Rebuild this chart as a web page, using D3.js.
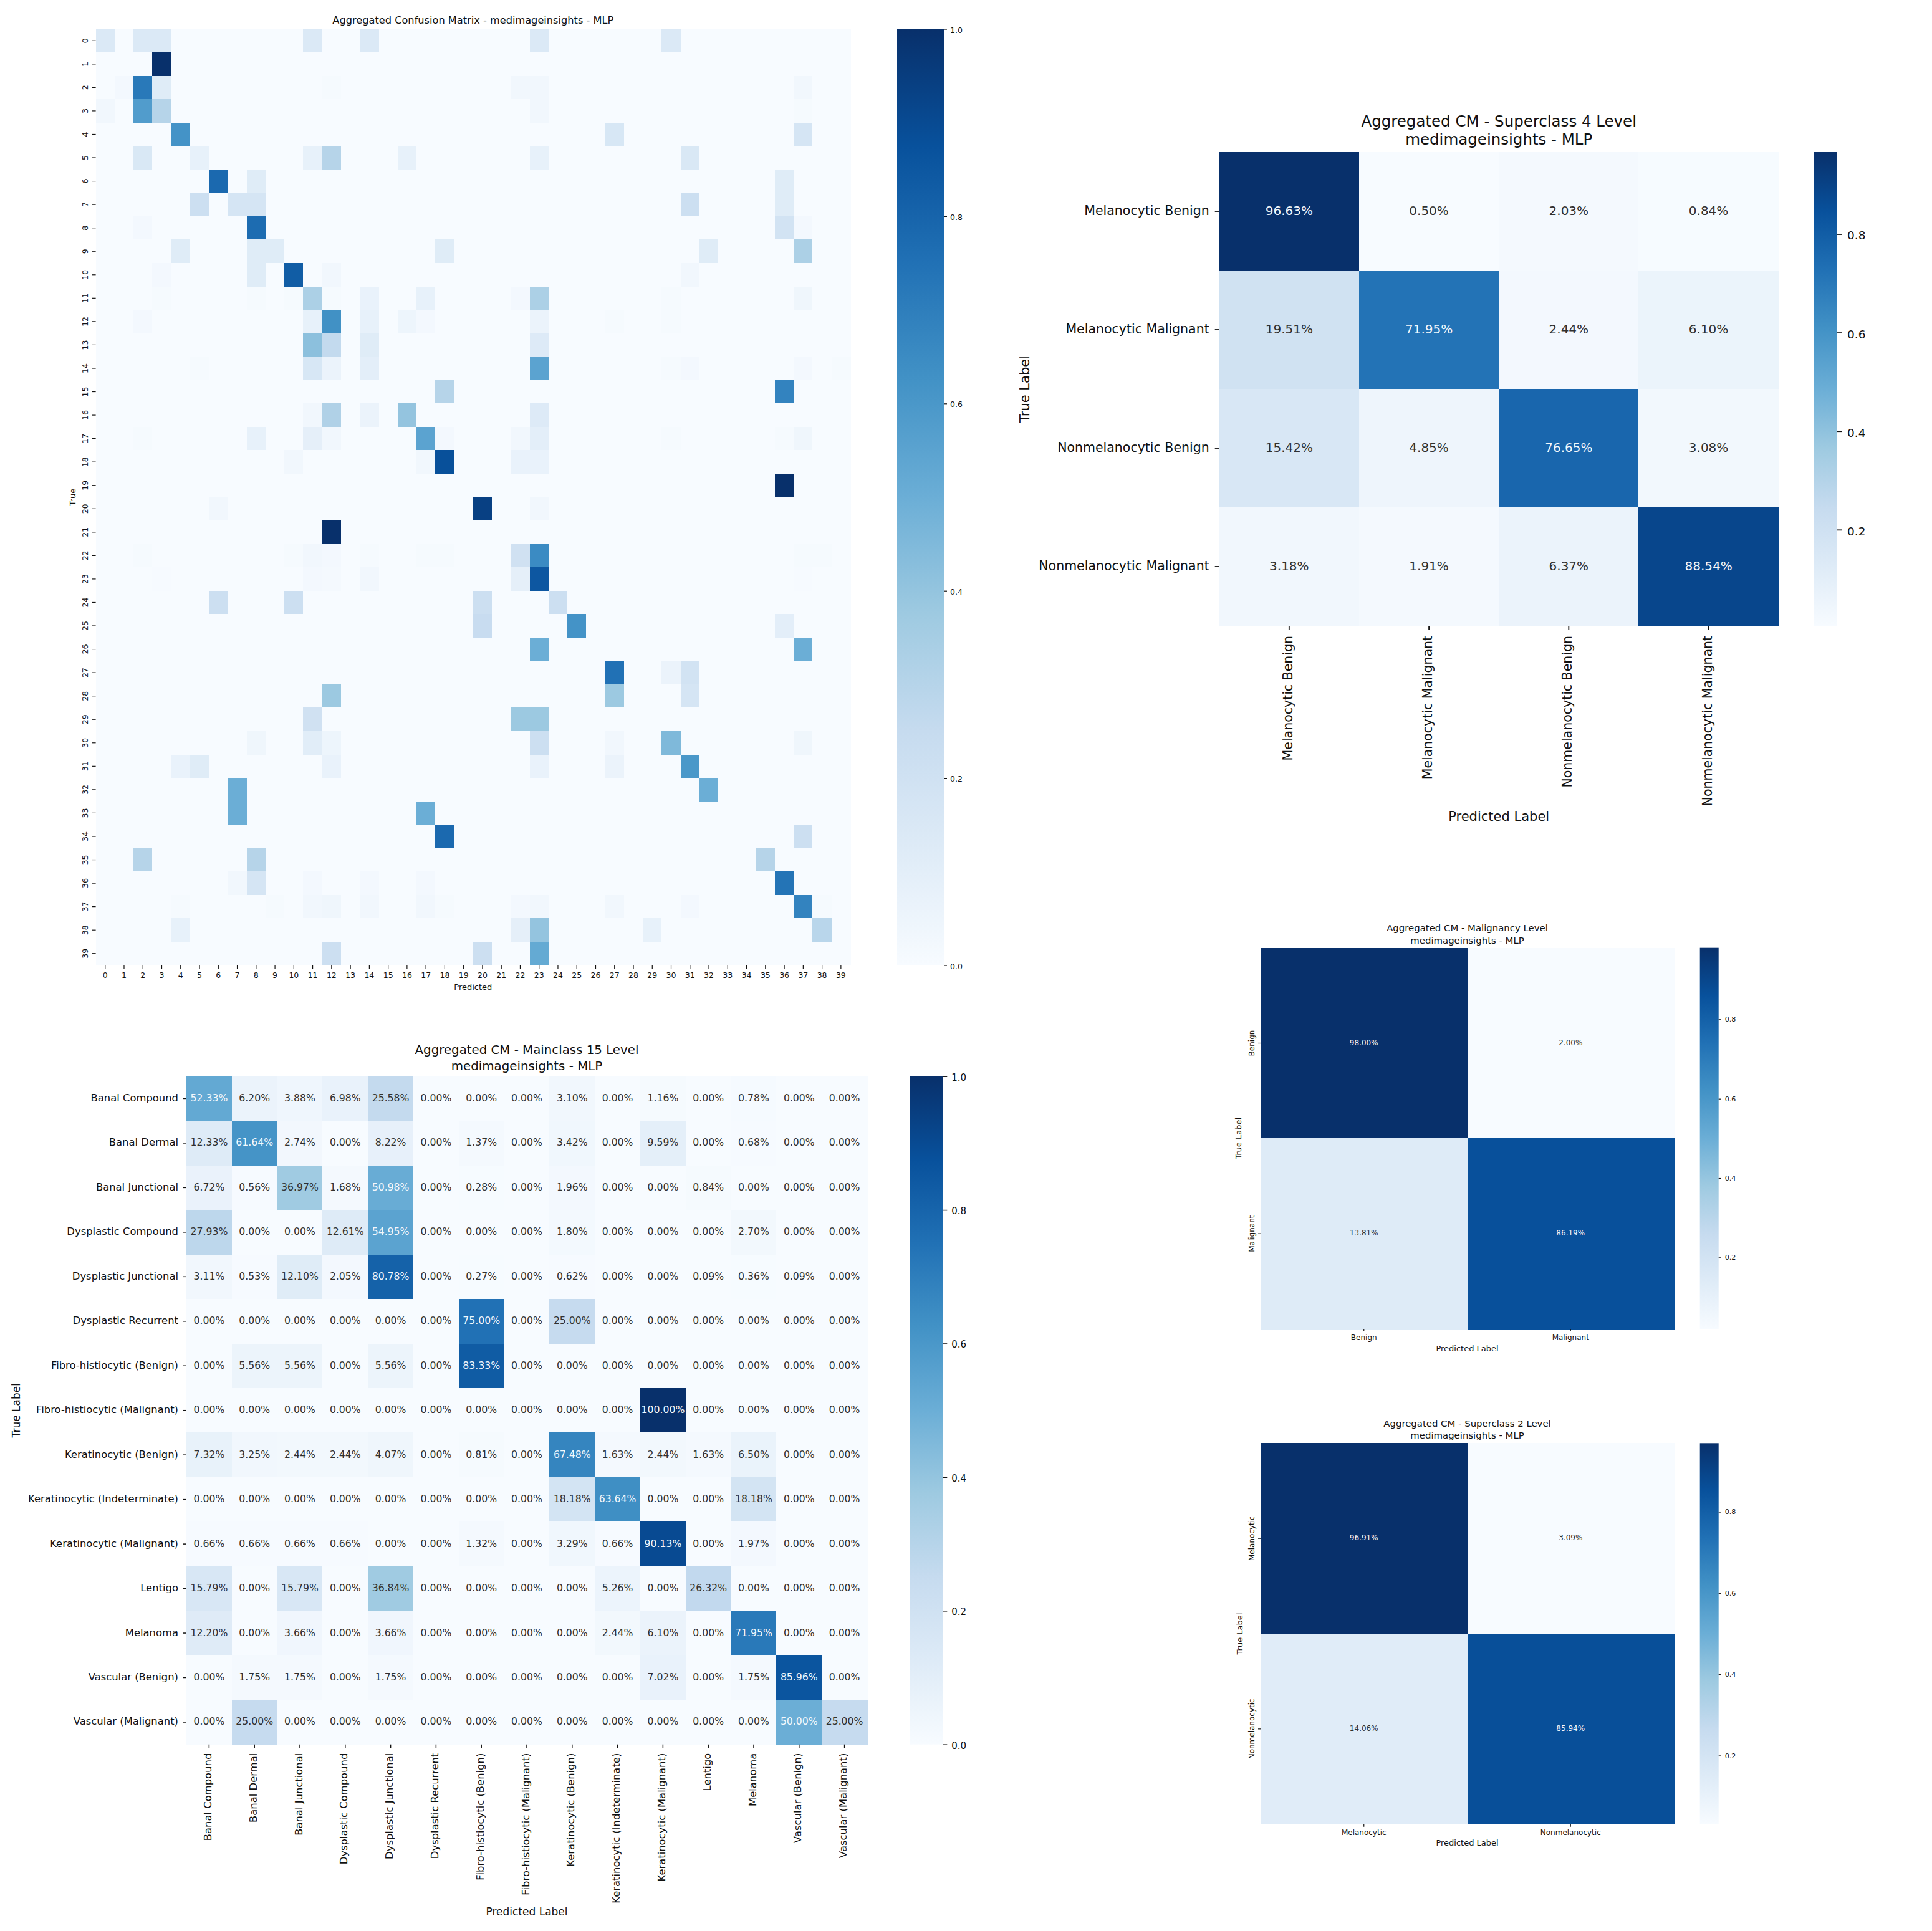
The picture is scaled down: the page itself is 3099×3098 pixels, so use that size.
<!DOCTYPE html>
<html><head><meta charset="utf-8">
<script src="https://cdn.jsdelivr.net/npm/d3@7/dist/d3.min.js"></script>
<style>html,body{margin:0;padding:0;background:#fff}svg{display:block}text{font-family:"DejaVu Sans",sans-serif}</style>
</head><body><div id="chart"></div>
<script>
// ---------- Data ----------
const classIds = Array.from({length:40},(_,i)=>String(i));
// fine-level matrix, per true class: [predicted class, rate] pairs (all other cells are 0)
const fineRows = [
 [[0,.14],[2,.14],[3,.14],[11,.14],[14,.14],[23,.14],[30,.14]],
 [[3,1]],
 [[1,.02],[2,.72],[3,.12],[12,.01],[22,.03],[23,.03],[37,.03]],
 [[0,.03],[2,.58],[3,.3],[23,.03],[37,.01]],
 [[4,.62],[27,.16],[37,.17]],
 [[2,.15],[5,.08],[11,.08],[12,.3],[16,.08],[23,.08],[31,.15]],
 [[6,.78],[8,.12],[36,.12]],
 [[5,.22],[7,.17],[8,.17],[31,.22],[36,.12]],
 [[2,.02],[8,.77],[36,.19],[37,.02]],
 [[4,.12],[8,.12],[9,.12],[18,.12],[32,.12],[37,.33]],
 [[3,.02],[8,.12],[10,.83],[12,.03],[31,.03]],
 [[3,.01],[8,.01],[10,.01],[11,.33],[12,.01],[14,.07],[17,.08],[22,.02],[23,.33],[30,.01],[37,.04]],
 [[2,.02],[11,.08],[12,.63],[14,.08],[16,.05],[17,.02],[23,.06],[27,.01],[30,.01]],
 [[11,.42],[12,.26],[14,.12],[23,.13]],
 [[5,.01],[11,.16],[12,.06],[14,.1],[23,.55],[30,.01],[31,.02],[37,.02],[39,.01]],
 [[18,.3],[36,.68]],
 [[11,.03],[12,.32],[14,.06],[16,.4],[23,.13]],
 [[2,.01],[8,.08],[11,.09],[12,.03],[17,.55],[18,.02],[22,.03],[23,.1],[30,.01],[36,.01],[37,.04]],
 [[10,.03],[17,.03],[18,.88],[22,.07],[23,.07]],
 [[36,1]],
 [[6,.03],[20,.94],[23,.03]],
 [[12,1]],
 [[2,.01],[10,.01],[11,.03],[12,.02],[14,.01],[17,.01],[18,.01],[22,.2],[23,.65],[37,.01],[38,.01]],
 [[3,.005],[11,.02],[12,.015],[14,.03],[22,.09],[23,.85],[37,.005]],
 [[6,.22],[10,.22],[20,.22],[24,.22]],
 [[20,.24],[25,.62],[36,.1]],
 [[23,.5],[37,.5]],
 [[27,.75],[30,.06],[31,.19]],
 [[12,.38],[27,.38],[31,.17]],
 [[11,.2],[22,.38],[23,.38]],
 [[8,.04],[11,.11],[12,.05],[23,.22],[27,.03],[30,.45],[37,.04]],
 [[4,.07],[5,.12],[12,.07],[23,.07],[27,.06],[31,.6]],
 [[7,.5],[32,.5]],
 [[7,.5],[17,.5]],
 [[18,.78],[37,.22]],
 [[2,.3],[8,.3],[35,.3]],
 [[7,.03],[8,.17],[11,.02],[14,.02],[17,.02],[36,.74]],
 [[4,.01],[9,.01],[11,.03],[12,.04],[14,.03],[17,.03],[18,.01],[22,.02],[23,.03],[27,.03],[31,.02],[37,.68],[38,.01]],
 [[4,.08],[22,.09],[23,.4],[29,.08],[38,.29]],
 [[12,.22],[20,.22],[23,.52]]
];
const mainLabels = ["Banal Compound","Banal Dermal","Banal Junctional","Dysplastic Compound","Dysplastic Junctional","Dysplastic Recurrent","Fibro-histiocytic (Benign)","Fibro-histiocytic (Malignant)","Keratinocytic (Benign)","Keratinocytic (Indeterminate)","Keratinocytic (Malignant)","Lentigo","Melanoma","Vascular (Benign)","Vascular (Malignant)"];
const mainValues = [
 [52.33,6.20,3.88,6.98,25.58,0,0,0,3.10,0,1.16,0,0.78,0,0],
 [12.33,61.64,2.74,0,8.22,0,1.37,0,3.42,0,9.59,0,0.68,0,0],
 [6.72,0.56,36.97,1.68,50.98,0,0.28,0,1.96,0,0,0.84,0,0,0],
 [27.93,0,0,12.61,54.95,0,0,0,1.80,0,0,0,2.70,0,0],
 [3.11,0.53,12.10,2.05,80.78,0,0.27,0,0.62,0,0,0.09,0.36,0.09,0],
 [0,0,0,0,0,0,75,0,25,0,0,0,0,0,0],
 [0,5.56,5.56,0,5.56,0,83.33,0,0,0,0,0,0,0,0],
 [0,0,0,0,0,0,0,0,0,0,100,0,0,0,0],
 [7.32,3.25,2.44,2.44,4.07,0,0.81,0,67.48,1.63,2.44,1.63,6.50,0,0],
 [0,0,0,0,0,0,0,0,18.18,63.64,0,0,18.18,0,0],
 [0.66,0.66,0.66,0.66,0,0,1.32,0,3.29,0.66,90.13,0,1.97,0,0],
 [15.79,0,15.79,0,36.84,0,0,0,0,5.26,0,26.32,0,0,0],
 [12.20,0,3.66,0,3.66,0,0,0,0,2.44,6.10,0,71.95,0,0],
 [0,1.75,1.75,0,1.75,0,0,0,0,0,7.02,0,1.75,85.96,0],
 [0,25,0,0,0,0,0,0,0,0,0,0,0,50,25]
];
const super4Labels = ["Melanocytic Benign","Melanocytic Malignant","Nonmelanocytic Benign","Nonmelanocytic Malignant"];
const super4Values = [[96.63,0.50,2.03,0.84],[19.51,71.95,2.44,6.10],[15.42,4.85,76.65,3.08],[3.18,1.91,6.37,88.54]];
const malignancyLabels = ["Benign","Malignant"];
const malignancyValues = [[98.00,2.00],[13.81,86.19]];
const super2Labels = ["Melanocytic","Nonmelanocytic"];
const super2Values = [[96.91,3.09],[14.06,85.94]];
const cbarTicksFull = [0,.2,.4,.6,.8,1];
const cbarTicksShort = [.2,.4,.6,.8];

// ---------- Setup ----------
const W=3099,H=3098, INK="#111";
const svg=d3.select("#chart").append("svg").attr("width",W).attr("height",H).attr("viewBox",`0 0 ${W} ${H}`);
svg.append("rect").attr("width",W).attr("height",H).attr("fill","#fff");
// matplotlib "Blues": piecewise linear through the 9 ColorBrewer anchors
const anchors=d3.schemeBlues[9];
const blues=d3.scaleLinear().domain(d3.range(9).map(i=>i/8)).range(anchors).interpolate(d3.interpolateRgb).clamp(true);
const grad=svg.append("defs").append("linearGradient").attr("id","cb").attr("x1",0).attr("x2",0).attr("y1",1).attr("y2",0);
anchors.forEach((c,i)=>grad.append("stop").attr("offset",i/8).attr("stop-color",c));
function lum(c){const r=d3.rgb(c);const f=v=>{v/=255;return v<=.03928?v/12.92:Math.pow((v+.055)/1.055,2.4)};return .2126*f(r.r)+.7152*f(r.g)+.0722*f(r.b);}

function heat(o){
  const n=o.matrix.length, g=svg.append("g"), k=o.unit||1;
  const x=d3.scaleBand().domain(d3.range(n)).range([o.x,o.x+o.w]);
  const y=d3.scaleBand().domain(d3.range(n)).range([o.y,o.y+o.h]);
  const norm=d3.scaleLinear().domain([o.vmin,o.vmax]).range([0,1]).clamp(true);
  const cells=o.matrix.flatMap((row,r)=>row.map((v,c)=>({r,c,v})));
  g.append("g").selectAll("rect").data(cells).join("rect")
    .attr("x",d=>x(d.c)).attr("y",d=>y(d.r)).attr("width",x.bandwidth()+.5).attr("height",y.bandwidth()+.5)
    .attr("fill",d=>blues(norm(d.v))).attr("shape-rendering","crispEdges");
  if(o.annot) g.append("g").selectAll("text").data(cells).join("text")
    .attr("x",d=>x(d.c)+x.bandwidth()/2).attr("y",d=>y(d.r)+y.bandwidth()/2-1)
    .attr("text-anchor","middle").attr("dominant-baseline","central").attr("font-size",o.annot)
    .attr("fill",d=>lum(blues(norm(d.v)))<.408?"#f4f8fc":"#303030")
    .text(d=>d.v.toFixed(2)+"%");
  // axes
  const ax=(sel)=>{sel.select(".domain").remove();sel.selectAll("line").attr("stroke",INK).attr("stroke-width",o.tw);};
  const gx=g.append("g").attr("transform",`translate(0,${o.y+o.h})`).call(d3.axisBottom(x).tickSize(o.tl).tickFormat(i=>o.labels[i])).call(ax);
  const gy=g.append("g").attr("transform",`translate(${o.x},0)`).call(d3.axisLeft(y).tickSize(o.tl).tickFormat(i=>o.labels[i])).call(ax);
  gx.selectAll("text").attr("fill",INK).attr("font-size",o.tf).each(function(){
    const t=d3.select(this).attr("dy",null).attr("y",null);
    if(o.xRot) t.attr("text-anchor","end").attr("dominant-baseline","central").attr("transform",`translate(-2,${o.xOff}) rotate(-90)`);
    else t.attr("text-anchor","middle").attr("dominant-baseline","central").attr("transform",`translate(0,${o.xOff})`);
  });
  gy.selectAll("text").attr("fill",INK).attr("font-size",o.tf).each(function(){
    const t=d3.select(this).attr("dy",null).attr("x",null);
    if(o.yRot) t.attr("text-anchor","middle").attr("dominant-baseline","central").attr("transform",`translate(${-o.yOff},0) rotate(-90)`);
    else t.attr("text-anchor","end").attr("dominant-baseline","central").attr("transform",`translate(${-o.yOff},-1)`);
  });
  // titles and axis names
  const cx=o.x+o.w/2;
  o.title.forEach((s,i)=>g.append("text").attr("x",cx).attr("y",o.titleY[i]).attr("text-anchor","middle").attr("dominant-baseline","central").attr("font-size",o.titleF).attr("fill",INK).text(s));
  g.append("text").attr("x",cx).attr("y",o.xLabelY).attr("text-anchor","middle").attr("dominant-baseline","central").attr("font-size",o.labF).attr("fill",INK).text(o.xName);
  g.append("text").attr("transform",`translate(${o.yLabelX},${o.y+o.h/2}) rotate(-90)`).attr("text-anchor","middle").attr("dominant-baseline","central").attr("font-size",o.labF).attr("fill",INK).text(o.yName);
  // colour bar
  const cbS=d3.scaleLinear().domain([o.vmin/k,o.vmax/k]).range([o.y+o.h,o.y]);
  g.append("rect").attr("x",o.cbX).attr("y",o.y).attr("width",o.cbW).attr("height",o.h).attr("fill","url(#cb)");
  const gc=g.append("g").attr("transform",`translate(${o.cbX+o.cbW},0)`).call(d3.axisRight(cbS).tickValues(o.cbTicks).tickSize(o.cbTl).tickPadding(o.cbPad).tickFormat(d3.format(".1f"))).call(ax);
  gc.selectAll("text").attr("fill",INK).attr("font-size",o.cbF).attr("dy",null).attr("y",o.cbDy).attr("dominant-baseline","central");
}

heat({matrix:fineRows.map(row=>{const a=classIds.map(()=>0);row.forEach(([c,v])=>a[c]=v);return a;}),labels:classIds,
  x:153.6,y:46.5,w:1210.4,h:1502,vmin:0,vmax:1,annot:0,tl:6,tw:1.2,tf:12.5,xRot:false,xOff:16,yRot:true,yOff:17,
  title:["Aggregated Confusion Matrix - medimageinsights - MLP"],titleY:[32],titleF:16.2,xName:"Predicted",yName:"True",xLabelY:1583,yLabelX:116,labF:13,
  cbX:1439,cbW:75,cbTicks:cbarTicksFull,cbTl:5,cbPad:5,cbF:12.5,cbDy:1});

heat({matrix:super4Values,labels:super4Labels,unit:100,x:1955.7,y:244,w:897,h:760,vmin:.5,vmax:96.63,annot:20,tl:7,tw:1.8,tf:20.5,xRot:true,xOff:16,yRot:false,yOff:16,
  title:["Aggregated CM - Superclass 4 Level","medimageinsights - MLP"],titleY:[194,223],titleF:24.5,xName:"Predicted Label",yName:"True Label",xLabelY:1310,yLabelX:1644,labF:21,
  cbX:2909,cbW:37,cbTicks:cbarTicksShort,cbTl:8,cbPad:9,cbF:18.5,cbDy:2});

heat({matrix:mainValues,labels:mainLabels,unit:100,x:299,y:1726.7,w:1092,h:1072,vmin:0,vmax:100,annot:15.7,tl:6,tw:1.5,tf:16.4,xRot:true,xOff:14,yRot:false,yOff:13,
  title:["Aggregated CM - Mainclass 15 Level","medimageinsights - MLP"],titleY:[1684,1710],titleF:19.8,xName:"Predicted Label",yName:"True Label",xLabelY:3067,yLabelX:26,labF:17,
  cbX:1459.3,cbW:53,cbTicks:cbarTicksFull,cbTl:7,cbPad:7,cbF:15,cbDy:1.3});

heat({matrix:malignancyValues,labels:malignancyLabels,unit:100,x:2022,y:1520.7,w:663,h:611.3,vmin:2,vmax:98,annot:12,tl:4,tw:1.2,tf:12,xRot:false,xOff:14,yRot:true,yOff:14.5,
  title:["Aggregated CM - Malignancy Level","medimageinsights - MLP"],titleY:[1489,1508.5],titleF:14.9,xName:"Predicted Label",yName:"True Label",xLabelY:2163,yLabelX:1986,labF:13,
  cbX:2726.7,cbW:30,cbTicks:cbarTicksShort,cbTl:4,cbPad:6,cbF:11.2,cbDy:0});

heat({matrix:super2Values,labels:super2Labels,unit:100,x:2022,y:2315.3,w:663,h:611.4,vmin:3.09,vmax:96.91,annot:12,tl:4,tw:1.2,tf:12,xRot:false,xOff:13,yRot:true,yOff:14.5,
  title:["Aggregated CM - Superclass 2 Level","medimageinsights - MLP"],titleY:[2284,2303],titleF:14.9,xName:"Predicted Label",yName:"True Label",xLabelY:2956,yLabelX:1988,labF:13,
  cbX:2726.7,cbW:30,cbTicks:cbarTicksShort,cbTl:4,cbPad:6,cbF:11.2,cbDy:0});
</script></body></html>
